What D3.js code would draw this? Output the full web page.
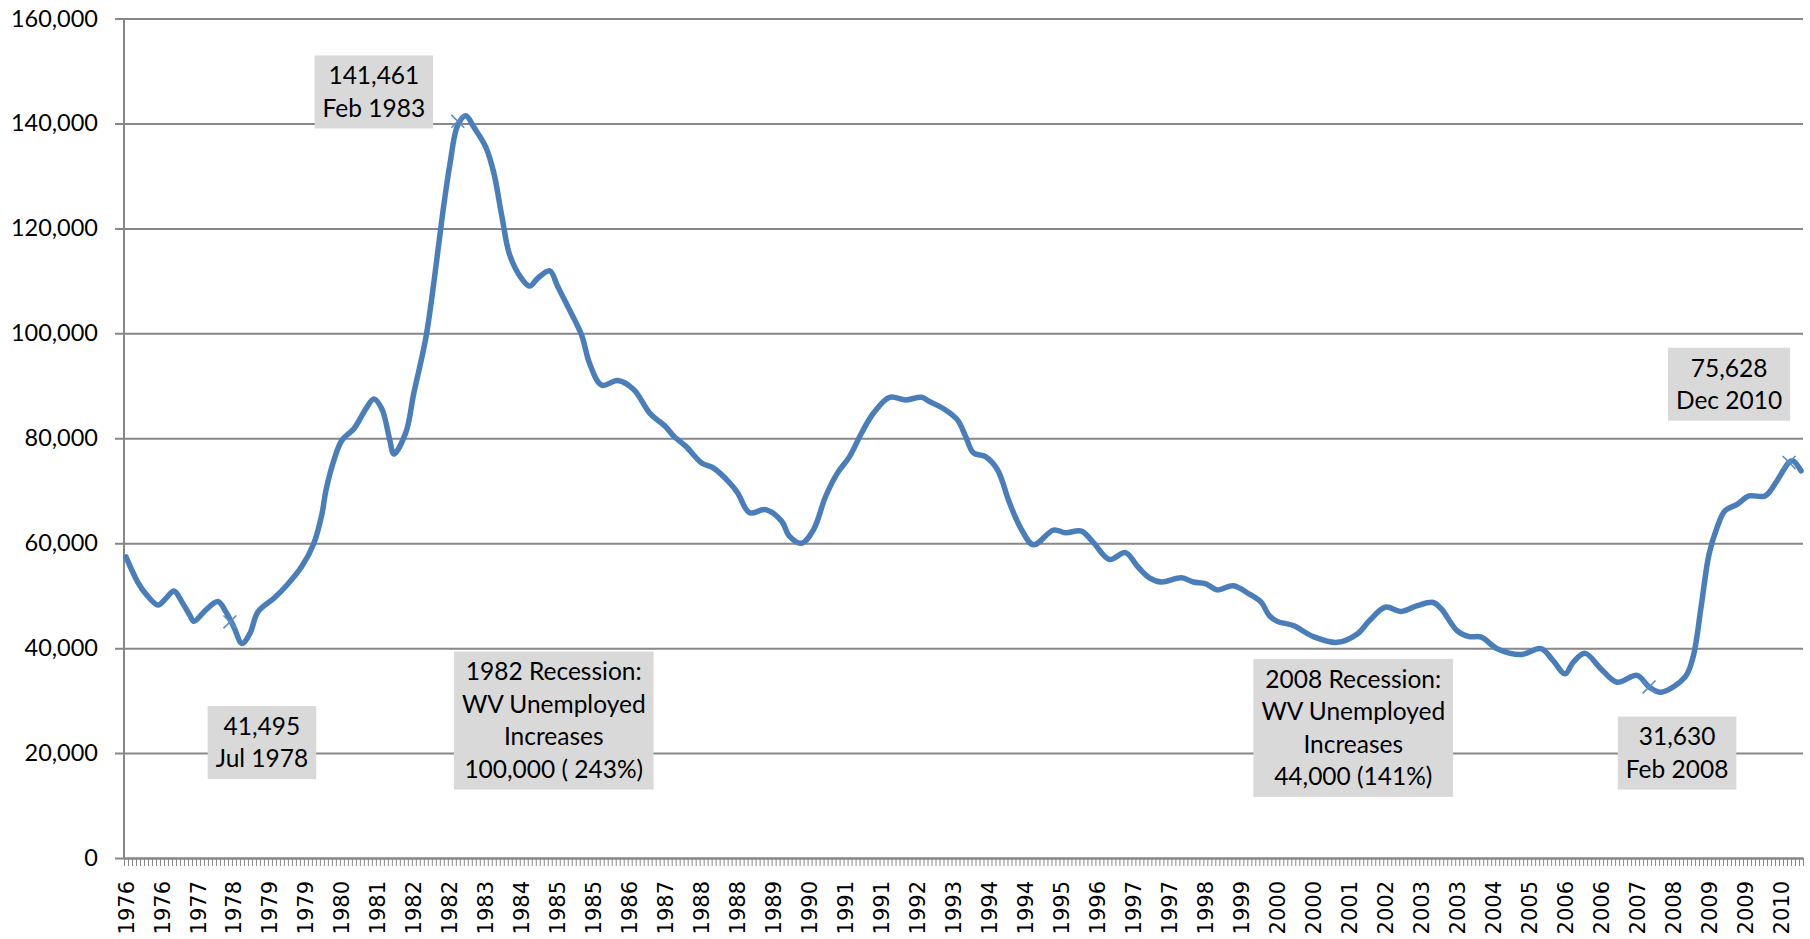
<!DOCTYPE html>
<html>
<head>
<meta charset="utf-8">
<script src="https://cdn.jsdelivr.net/npm/d3@7"></script>
<style>
  body { margin: 0; background: #fff; }
  .canvas svg { display: block; }
</style>
</head>
<body>
<div class="canvas"></div>
<script>
// WV unemployed persons, monthly category axis Jan 1976 - Dec 2010
// values at the months where the curve turns
const months = [
  "1976-01", "1976-04", "1976-06", "1976-09", "1976-11", "1977-01", "1977-03", "1977-05",
  "1977-06", "1977-09", "1977-12", "1978-02", "1978-04", "1978-06", "1978-08", "1978-10",
  "1979-02", "1979-05", "1979-09", "1979-12", "1980-02", "1980-03", "1980-05", "1980-07",
  "1980-10", "1981-01", "1981-03", "1981-05", "1981-07", "1981-08", "1981-11", "1982-01",
  "1982-04", "1982-06", "1982-08", "1982-10", "1982-12", "1983-02", "1983-04", "1983-07",
  "1983-09", "1983-11", "1984-01", "1984-04", "1984-06", "1984-08", "1984-11", "1985-01",
  "1985-04", "1985-07", "1985-09", "1985-12", "1986-04", "1986-08", "1986-12", "1987-04",
  "1987-06", "1987-09", "1988-01", "1988-04", "1988-08", "1988-10", "1989-01", "1989-05",
  "1989-09", "1989-11", "1990-02", "1990-05", "1990-08", "1990-11", "1991-02", "1991-05",
  "1991-08", "1991-12", "1992-04", "1992-08", "1992-10", "1993-02", "1993-05", "1993-07",
  "1993-09", "1993-12", "1994-03", "1994-06", "1994-09", "1994-12", "1995-05", "1995-08",
  "1995-12", "1996-03", "1996-07", "1996-11", "1997-02", "1997-05", "1997-08", "1998-01",
  "1998-04", "1998-07", "1998-10", "1999-02", "1999-06", "1999-09", "1999-11", "2000-01",
  "2000-05", "2000-10", "2001-04", "2001-09", "2001-12", "2002-04", "2002-08", "2002-12",
  "2003-04", "2003-06", "2003-10", "2004-01", "2004-04", "2004-08", "2005-02", "2005-07",
  "2005-10", "2006-01", "2006-03", "2006-06", "2006-10", "2007-02", "2007-07", "2007-10",
  "2008-01", "2008-07", "2008-09", "2008-11", "2009-01", "2009-03", "2009-05", "2009-08",
  "2009-11", "2010-03", "2010-06", "2010-09", "2010-10", "2010-12"
];

const unemployed = [
  57400, 52500, 50300, 48200, 49500, 50900, 48800, 46200,
  45100, 47300, 48900, 46900, 44000, 40900, 42800, 46900,
  49500, 51800, 55600, 60000, 65500, 70000, 75800, 79600,
  81800, 85600, 87500, 85600, 79600, 77000, 81100, 88600,
  99100, 109600, 121600, 132100, 139700, 141461, 139300, 135500,
  130600, 122400, 114900, 110400, 109000, 110500, 111900, 108900,
  104400, 99600, 94200, 90100, 91000, 89300, 84800, 82200,
  80400, 78500, 75300, 74300, 71500, 69600, 65800, 66400,
  64200, 61300, 60000, 62600, 68900, 73400, 76500, 81000,
  84800, 87800, 87300, 87800, 87000, 85400, 83500, 80400,
  77200, 76500, 74000, 67700, 62600, 59700, 62500, 62000,
  62300, 60100, 56900, 58200, 55600, 53400, 52600, 53400,
  52600, 52300, 51100, 51900, 50300, 48700, 46200, 45100,
  44300, 42200, 41100, 42700, 45200, 47800, 47000, 48100,
  48700, 47500, 43300, 42200, 42100, 39900, 38800, 39900,
  37600, 35100, 37300, 39000, 36000, 33500, 34800, 32600,
  31600, 34500, 38300, 47800, 57900, 63000, 66200, 67400,
  69000, 69000, 71900, 75400, 75700, 73800
];

// the little x markers on the line
const markerMonths = ["1978-03", "1982-12", "2007-10", "2010-09"];
const markerValues = [45000, 140400, 32600, 75400];

const yTicks = [0, 20000, 40000, 60000, 80000, 100000, 120000, 140000, 160000];
const labelEvery = 9;

// callout boxes, centred on a month / value spot
const notes = [
  { lines: ["141,461", "Feb 1983"], month: "1981-03", value: 146000 },
  { lines: ["41,495", "Jul 1978"], month: "1978-11", value: 22000 },
  { lines: ["1982 Recession:", "WV Unemployed", "Increases", "100,000 ( 243%)"], month: "1984-12", value: 26200 },
  { lines: ["2008 Recession:", "WV Unemployed", "Increases", "44,000 (141%)"], month: "2001-08", value: 24800 },
  { lines: ["31,630", "Feb 2008"], month: "2008-05", value: 20000 },
  { lines: ["75,628", "Dec 2010"], month: "2009-06", value: 90300 }
];

const dims = { width: 1810, height: 939 };
const plot = { left: 124, right: 1803, top: 18.5, bottom: 858 };
const blue = "#4a7ebb";
const grey = "#878787";

const fmtMonth = d3.timeFormat("%Y-%m");
const allMonths = d3
  .timeMonth
  .range(new Date(1976, 0, 1), new Date(2011, 0, 1))
  .map(fmtMonth);

const svg = d3
  .select(".canvas")
  .append("svg")
  .attr("width", dims.width)
  .attr("height", dims.height);

const x = d3
  .scaleBand()
  .domain(allMonths)
  .range([plot.left, plot.right])
  .padding(0);

const xTicks = d3
  .scaleLinear()
  .domain([0, allMonths.length])
  .range([plot.left, plot.right]);

const y = d3
  .scaleLinear()
  .domain([0, 160000])
  .range([plot.bottom, plot.top]);

const xc = (m) => x(m) + x.bandwidth() / 2;

// gridlines + y labels
const yAxis = svg
  .append("g")
  .attr("transform", `translate(${plot.left - 9}, 0)`)
  .call(
    d3
      .axisLeft(y)
      .tickValues(yTicks)
      .tickFormat(d3.format(","))
      .tickSize(-(plot.right - plot.left + 9))
      .tickPadding(17)
  );
yAxis.select(".domain").remove();
yAxis
  .selectAll("line")
  .attr("stroke", grey)
  .attr("stroke-width", 2);
yAxis
  .selectAll("text")
  .attr("font-family", "Lato, sans-serif")
  .attr("font-size", 23.5)
  .attr("fill", "#000");

// y axis line
svg
  .append("line")
  .attr("x1", plot.left)
  .attr("x2", plot.left)
  .attr("y1", plot.top)
  .attr("y2", plot.bottom)
  .attr("stroke", grey)
  .attr("stroke-width", 2);

// monthly tick marks
const tickAxis = svg
  .append("g")
  .attr("transform", `translate(0, ${plot.bottom})`)
  .call(
    d3
      .axisBottom(xTicks)
      .tickValues(d3.range(allMonths.length + 1))
      .tickSize(8)
      .tickSizeOuter(0)
      .tickFormat("")
  );
tickAxis.select(".domain").attr("stroke", grey).attr("stroke-width", 2);
tickAxis.selectAll("line").attr("stroke", grey).attr("stroke-width", 1);

// year labels every 9 months, rotated
const labelAxis = svg
  .append("g")
  .attr("transform", `translate(0, ${plot.bottom})`)
  .call(
    d3
      .axisBottom(x)
      .tickValues(allMonths.filter((d, i) => i % labelEvery === 0))
      .tickSize(0)
      .tickFormat((d) => d.slice(0, 4))
  );
labelAxis.select(".domain").remove();
labelAxis
  .selectAll("text")
  .attr("transform", "rotate(-90)")
  .attr("text-anchor", "end")
  .attr("x", -23)
  .attr("y", 0)
  .attr("dy", "0.36em")
  .attr("font-family", "'DejaVu Sans', sans-serif")
  .attr("font-size", 21)
  .attr("fill", "#000");

// the series
const series = months.map((m, i) => ({ month: m, value: unemployed[i] }));

const line = d3
  .line()
  .x((d) => xc(d.month))
  .y((d) => y(d.value))
  .curve(d3.curveCatmullRom.alpha(0.5));

svg
  .append("path")
  .datum(series)
  .attr("d", line)
  .attr("fill", "none")
  .attr("stroke", blue)
  .attr("stroke-width", 5.5)
  .attr("stroke-linejoin", "round")
  .attr("stroke-linecap", "round");

// markers
svg
  .append("g")
  .selectAll("path")
  .data(markerMonths)
  .enter()
  .append("path")
  .attr("d", d3.symbol().type(d3.symbolX).size(110))
  .attr("transform", (d, i) => `translate(${xc(d)}, ${y(markerValues[i])})`)
  .attr("fill", "none")
  .attr("stroke", "#5b8cc8")
  .attr("stroke-width", 1.6);

// callouts
const lineGap = 32.5;
const padX = 8;
const padY = 4;

const noteGroups = svg
  .append("g")
  .selectAll("g")
  .data(notes)
  .enter()
  .append("g")
  .attr("transform", (d) => `translate(${xc(d.month)}, ${y(d.value)})`);

const noteRects = noteGroups.append("rect").attr("fill", "#d9d9d9");

noteGroups
  .append("text")
  .attr("text-anchor", "middle")
  .attr("font-family", "Lato, sans-serif")
  .attr("font-size", 24.5)
  .attr("fill", "#000")
  .selectAll("tspan")
  .data((d) => d.lines.map((t, i) => ({ t, i, n: d.lines.length })))
  .enter()
  .append("tspan")
  .attr("x", 0)
  .attr("y", (d) => (d.i - (d.n - 1) / 2) * lineGap)
  .attr("dy", "0.35em")
  .text((d) => d.t);

noteGroups.each(function (d) {
  const txt = d3.select(this).select("text").node();
  const w = d3.max(
    Array.from(txt.querySelectorAll("tspan")),
    (t) => t.getComputedTextLength()
  );
  const h = d.lines.length * lineGap + padY * 2;
  d3.select(this)
    .select("rect")
    .attr("x", -w / 2 - padX)
    .attr("y", -h / 2)
    .attr("width", w + padX * 2)
    .attr("height", h);
});
</script>
</body>
</html>
